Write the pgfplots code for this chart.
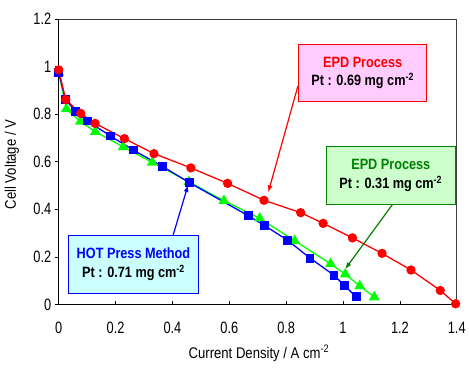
\documentclass[border=0pt]{standalone}
\usepackage{fontspec}
\setmainfont{Liberation Sans}[FakeStretch=0.85]
\newfontfamily\tickfont{Liberation Sans}[FakeStretch=0.78]
\usepackage{pgfplots}
\pgfplotsset{compat=1.18}
\usetikzlibrary{arrows.meta}
\definecolor{pinkfill}{RGB}{255,204,255}
\definecolor{greenfill}{RGB}{204,255,204}
\definecolor{cyanfill}{RGB}{204,255,255}
\definecolor{dkgreen}{RGB}{0,128,0}
\definecolor{lgreen}{RGB}{0,255,0}
\begin{document}
\begin{tikzpicture}
\begin{axis}[name=ax, scale only axis, width=400pt, height=287pt,
  xmin=0, xmax=1.4, ymin=0, ymax=1.2,
  xtick={0,0.2,0.4,0.6,0.8,1,1.2,1.4},
  ytick={0,0.2,0.4,0.6,0.8,1,1.2},
  xtick pos=bottom, ytick pos=left,
  tick align=outside, major tick length=4pt,
  x tick style={yshift=4pt},
  tick style={black, line width=0.8pt},
  axis line style={line width=0.6pt, black!75},
  /pgf/number format/assume math mode=true,
  ticklabel style={font=\tickfont\fontsize{16.5}{18}\selectfont},
  xticklabel style={yshift=-10pt},
  x label style={at={(axis description cs:0.503,-0.171)}, anchor=center},
  y label style={at={(axis description cs:-0.1175,0.49)}, anchor=center},
  label style={font=\fontsize{15.5}{18}\selectfont},
  xlabel={Current Density / A cm\textsuperscript{-2}},
  ylabel={Cell Voltage / V},
  clip=false,
]
\addplot[color=lgreen, line width=1.3pt, mark=triangle*, mark size=5pt, mark options={fill=lgreen}] coordinates {
(0,0.975) (0.027,0.822) (0.076,0.769) (0.129,0.726) (0.227,0.662) (0.329,0.597) (0.458,0.515) (0.581,0.436) (0.707,0.362) (0.830,0.268) (0.956,0.171) (1.008,0.127) (1.059,0.078) (1.110,0.031)};
\addplot[color=blue, line width=1.3pt, mark=square*, mark size=3.8pt, mark options={fill=blue}] coordinates {
(0,0.974) (0.0235,0.861) (0.060,0.811) (0.101,0.771) (0.182,0.708) (0.262,0.649) (0.364,0.581) (0.461,0.511) (0.667,0.373) (0.724,0.332) (0.806,0.269) (0.884,0.195) (0.968,0.123) (1.006,0.079) (1.046,0.032)};
\addplot[color=red, line width=1.3pt, mark=*, mark size=4pt, mark options={fill=red}] coordinates {
(0,0.986) (0.0247,0.861) (0.0775,0.803) (0.128,0.761) (0.231,0.697) (0.335,0.634) (0.465,0.574) (0.594,0.509) (0.722,0.438) (0.851,0.386) (0.930,0.341) (1.033,0.280) (1.137,0.215) (1.239,0.145) (1.342,0.059) (1.396,0.003)};
\draw[black, line width=1.5pt] (rel axis cs:0,1) -- (rel axis cs:0,0) -- (rel axis cs:1,0);
\draw[red, line width=1.2pt, -{Latex[length=7pt,width=5pt]}] (axis cs:0.841,0.917) -- (axis cs:0.737,0.471);
\draw[dkgreen, line width=1.2pt, -{Latex[length=7pt,width=5pt]}] (axis cs:1.175,0.422) -- (axis cs:1.007,0.148);
\draw[blue, line width=1.2pt, -{Latex[length=7pt,width=5pt]}] (axis cs:0.402,0.290) -- (axis cs:0.455,0.502);
\node[draw=red, line width=1pt, fill=pinkfill, minimum width=129pt, minimum height=58pt, align=center, inner sep=0pt, font=\fontsize{15}{19}\selectfont\bfseries] at (axis cs:1.069,0.973) {\textcolor{red}{EPD Process}\\Pt : 0.69 mg cm\textsuperscript{-2}};
\node[draw=dkgreen, line width=1pt, fill=greenfill, minimum width=129pt, minimum height=58pt, align=center, inner sep=0pt, font=\fontsize{15}{19}\selectfont\bfseries] at (axis cs:1.168,0.543) {\textcolor{dkgreen}{EPD Process}\\Pt : 0.31 mg cm\textsuperscript{-2}};
\node[draw=blue, line width=1pt, fill=cyanfill, minimum width=130pt, minimum height=58pt, align=center, inner sep=0pt, font=\fontsize{15}{19}\selectfont\bfseries] at (axis cs:0.263,0.168) {\textcolor{blue}{HOT Press Method}\\Pt : 0.71 mg cm\textsuperscript{-2}};
\end{axis}
\path (ax.south west) ++(-59pt,-66pt);
\path (ax.north east) ++(10pt,19pt);
\end{tikzpicture}
\end{document}
